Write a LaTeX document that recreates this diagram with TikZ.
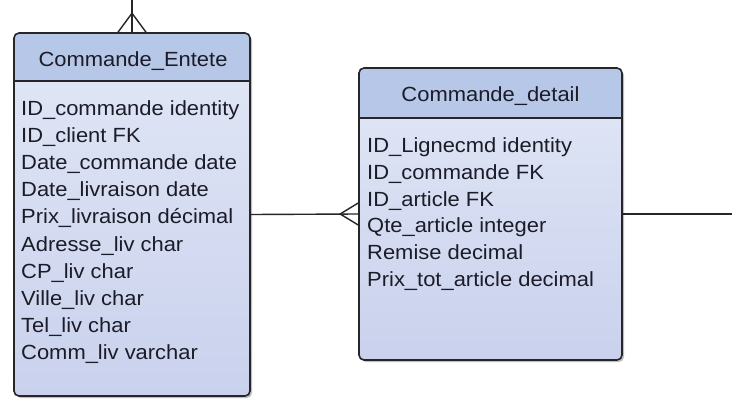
\documentclass[tikz,border=0pt]{standalone}
\usepackage{fontspec}
\setmainfont{Liberation Sans}[FakeStretch=1.07]
\usetikzlibrary{shadows,calc}

\definecolor{hdrblue}{RGB}{182,199,232}
\definecolor{bodytop}{RGB}{226,232,246}
\definecolor{bodybot}{RGB}{201,209,237}
\definecolor{edge}{RGB}{38,38,42}
\definecolor{ink}{RGB}{28,28,40}

\tikzset{
  entity/.style={draw=edge, line width=1.6pt, rounded corners=5pt,
    top color=bodytop, bottom color=bodybot, inner sep=0pt,
    drop shadow={shadow xshift=2pt, shadow yshift=-2pt, opacity=0.25, fill=black}},
  headerband/.style={path picture={
    \fill[hdrblue] (path picture bounding box.north west)
      rectangle ([yshift=-#1]path picture bounding box.north east);
    \draw[edge, line width=1.3pt] ([yshift=-#1]path picture bounding box.north west)
      -- ([yshift=-#1]path picture bounding box.north east);}},
  title/.style={font=\fontsize{20.5}{24}\selectfont, text=ink, inner sep=0pt, anchor=base},
  field/.style={font=\fontsize{20.5}{24}\selectfont, text=ink, inner sep=0pt, anchor=base west},
  link/.style={draw=edge, line width=1.4pt},
}

\begin{document}
\begin{tikzpicture}[x=1pt, y=-1pt]
  \useasboundingbox (0,0) rectangle (732,399);
  \fill[white] (0,0) rectangle (732,399);

  % tables
  \node[entity, headerband=48pt, minimum width=236pt, minimum height=363pt]
    (entete) at (132,214.5) {};
  \node[entity, headerband=50pt, minimum width=263pt, minimum height=292pt]
    (detail) at (490.5,214) {};

  % table names
  \node[title] (enteteName) at (133,66.5) {Commande\_Entete};
  \node[title] (detailName) at (490.5,101.5) {Commande\_detail};

  % columns of Commande_Entete
  \foreach \t [count=\i from 0] in {ID\_commande identity, ID\_client FK,
      Date\_commande date, Date\_livraison date, Prix\_livraison décimal,
      Adresse\_liv char, CP\_liv char, Ville\_liv char, Tel\_liv char,
      Comm\_liv varchar}
    \node[field] (e\i) at (21,{115.5+27.1*\i}) {\t};

  % columns of Commande_detail
  \foreach \t [count=\i from 0] in {ID\_Lignecmd identity, ID\_commande FK,
      ID\_article FK, Qte\_article integer, Remise decimal,
      Prix\_tot\_article decimal}
    \node[field] (d\i) at (367,{152.5+26.8*\i}) {\t};

  % relationships
  \coordinate (topEnd) at (132,0);
  \coordinate (rightEnd) at (732,214);
  \draw[link] (entete.north) -- (topEnd);
  \draw[link] ($(entete.north)+(-14,0)$) -- ($(entete.north)+(0,-19)$)
    -- ($(entete.north)+(14,0)$);
  \draw[link] (entete.east) -- (detail.west);
  \draw[link] ($(detail.west)+(0,-11)$) -- ($(detail.west)+(-18,0)$)
    -- ($(detail.west)+(0,11)$);
  \draw[link] (detail.east) -- (rightEnd);
\end{tikzpicture}
\end{document}
